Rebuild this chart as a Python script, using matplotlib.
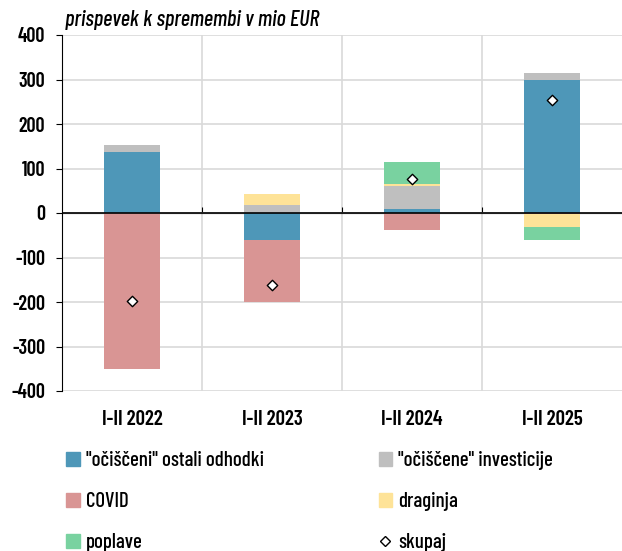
import numpy as np
import matplotlib
matplotlib.use("Agg")
import matplotlib.pyplot as plt
from matplotlib.patches import Patch
from matplotlib.lines import Line2D

plt.rcParams['font.family'] = ['Barlow Condensed', 'DejaVu Sans']
plt.rcParams['font.weight'] = 'medium'
plt.rcParams['axes.unicode_minus'] = False

# Data (mio EUR)
periods = ['I-II 2022', 'I-II 2023', 'I-II 2024', 'I-II 2025']
ostali = [138, -61, 10, 298]      # "očiščeni" ostali odhodki
investicije = [14, 19, 50, 17]    # "očiščene" investicije
covid = [-351, -140, -38, -3]
draginja = [0, 24, 6, -29]
poplave = [0, 0, 49, -29]
skupaj = [-198, -161, 77, 253]

series = [
    ('"očiščeni" ostali odhodki', ostali, '#4E97B8'),
    ('"očiščene" investicije', investicije, '#BFBFBF'),
    ('COVID', covid, '#D99594'),
    ('draginja', draginja, '#FEE398'),
    ('poplave', poplave, '#79D2A0'),
]

fig = plt.figure(figsize=(6.22, 5.51), dpi=100)
ax = fig.add_axes([62/622, 1 - 391/551, 1 - 62/622, 356/551])

x = np.arange(len(periods))
pos_base = np.zeros(len(periods))
neg_base = np.zeros(len(periods))
handles = {}
for name, vals, col in series:
    vals = np.array(vals, dtype=float)
    base = np.where(vals >= 0, pos_base, neg_base)
    ax.bar(x, vals, 0.4, bottom=base, color=col, zorder=3)
    pos_base += np.clip(vals, 0, None)
    neg_base += np.clip(vals, None, 0)
    handles[name] = Patch(color=col)

ax.scatter(x, skupaj, marker='D', s=28, facecolor='white', edgecolor='black',
           linewidth=1.0, zorder=5)

ax.set_xlim(-0.5, 3.5)
ax.set_ylim(-400, 400)
ax.set_yticks(np.arange(-400, 401, 100))
ax.grid(axis='y', color='#D9D9D9', linewidth=1.2, zorder=0)
for sep in [0.5, 1.5, 2.5]:
    ax.axvline(sep, color='#D9D9D9', linewidth=1.2, zorder=0)
ax.axhline(0, color='black', linewidth=1.2, zorder=4)

for s in ['top', 'right', 'bottom']:
    ax.spines[s].set_visible(False)
ax.spines['left'].set_color('black')
ax.tick_params(axis='y', direction='out', length=4, labelsize=14.5, pad=8)
for lab in ax.get_yticklabels():
    lab.set_fontweight('semibold')

ax.set_xticks(x)
ax.set_xticklabels(periods, fontsize=15, fontweight='semibold')
ax.tick_params(axis='x', length=0, pad=14)

# small ticks on the zero line between categories
sec = ax.secondary_xaxis(0.5)
sec.set_xticks([0.5, 1.5, 2.5])
sec.set_xticklabels([])
sec.tick_params(direction='out', length=4, color='black')
sec.spines['bottom'].set_visible(False)

fig.text(65/622, 1 - 20/551, 'prispevek k spremembi v mio EUR', fontsize=16,
         style='italic', va='center', ha='left')

leg_handles = [handles['"očiščeni" ostali odhodki'], handles['COVID'], handles['poplave'],
               handles['"očiščene" investicije'], handles['draginja'],
               Line2D([], [], marker='D', linestyle='none', markersize=5,
                      markerfacecolor='white', markeredgecolor='black')]
leg_labels = ['"očiščeni" ostali odhodki', 'COVID', 'poplave',
              '"očiščene" investicije', 'draginja', 'skupaj']
fig.legend(leg_handles, leg_labels, loc='upper left',
           bbox_to_anchor=(58/622, 1 - 443/551), ncol=2, frameon=False,
           fontsize=15, handlelength=0.65, handleheight=0.65, handletextpad=0.3,
           labelspacing=1.05, columnspacing=5.5, borderaxespad=0)

fig.savefig('out.png', dpi=100)
